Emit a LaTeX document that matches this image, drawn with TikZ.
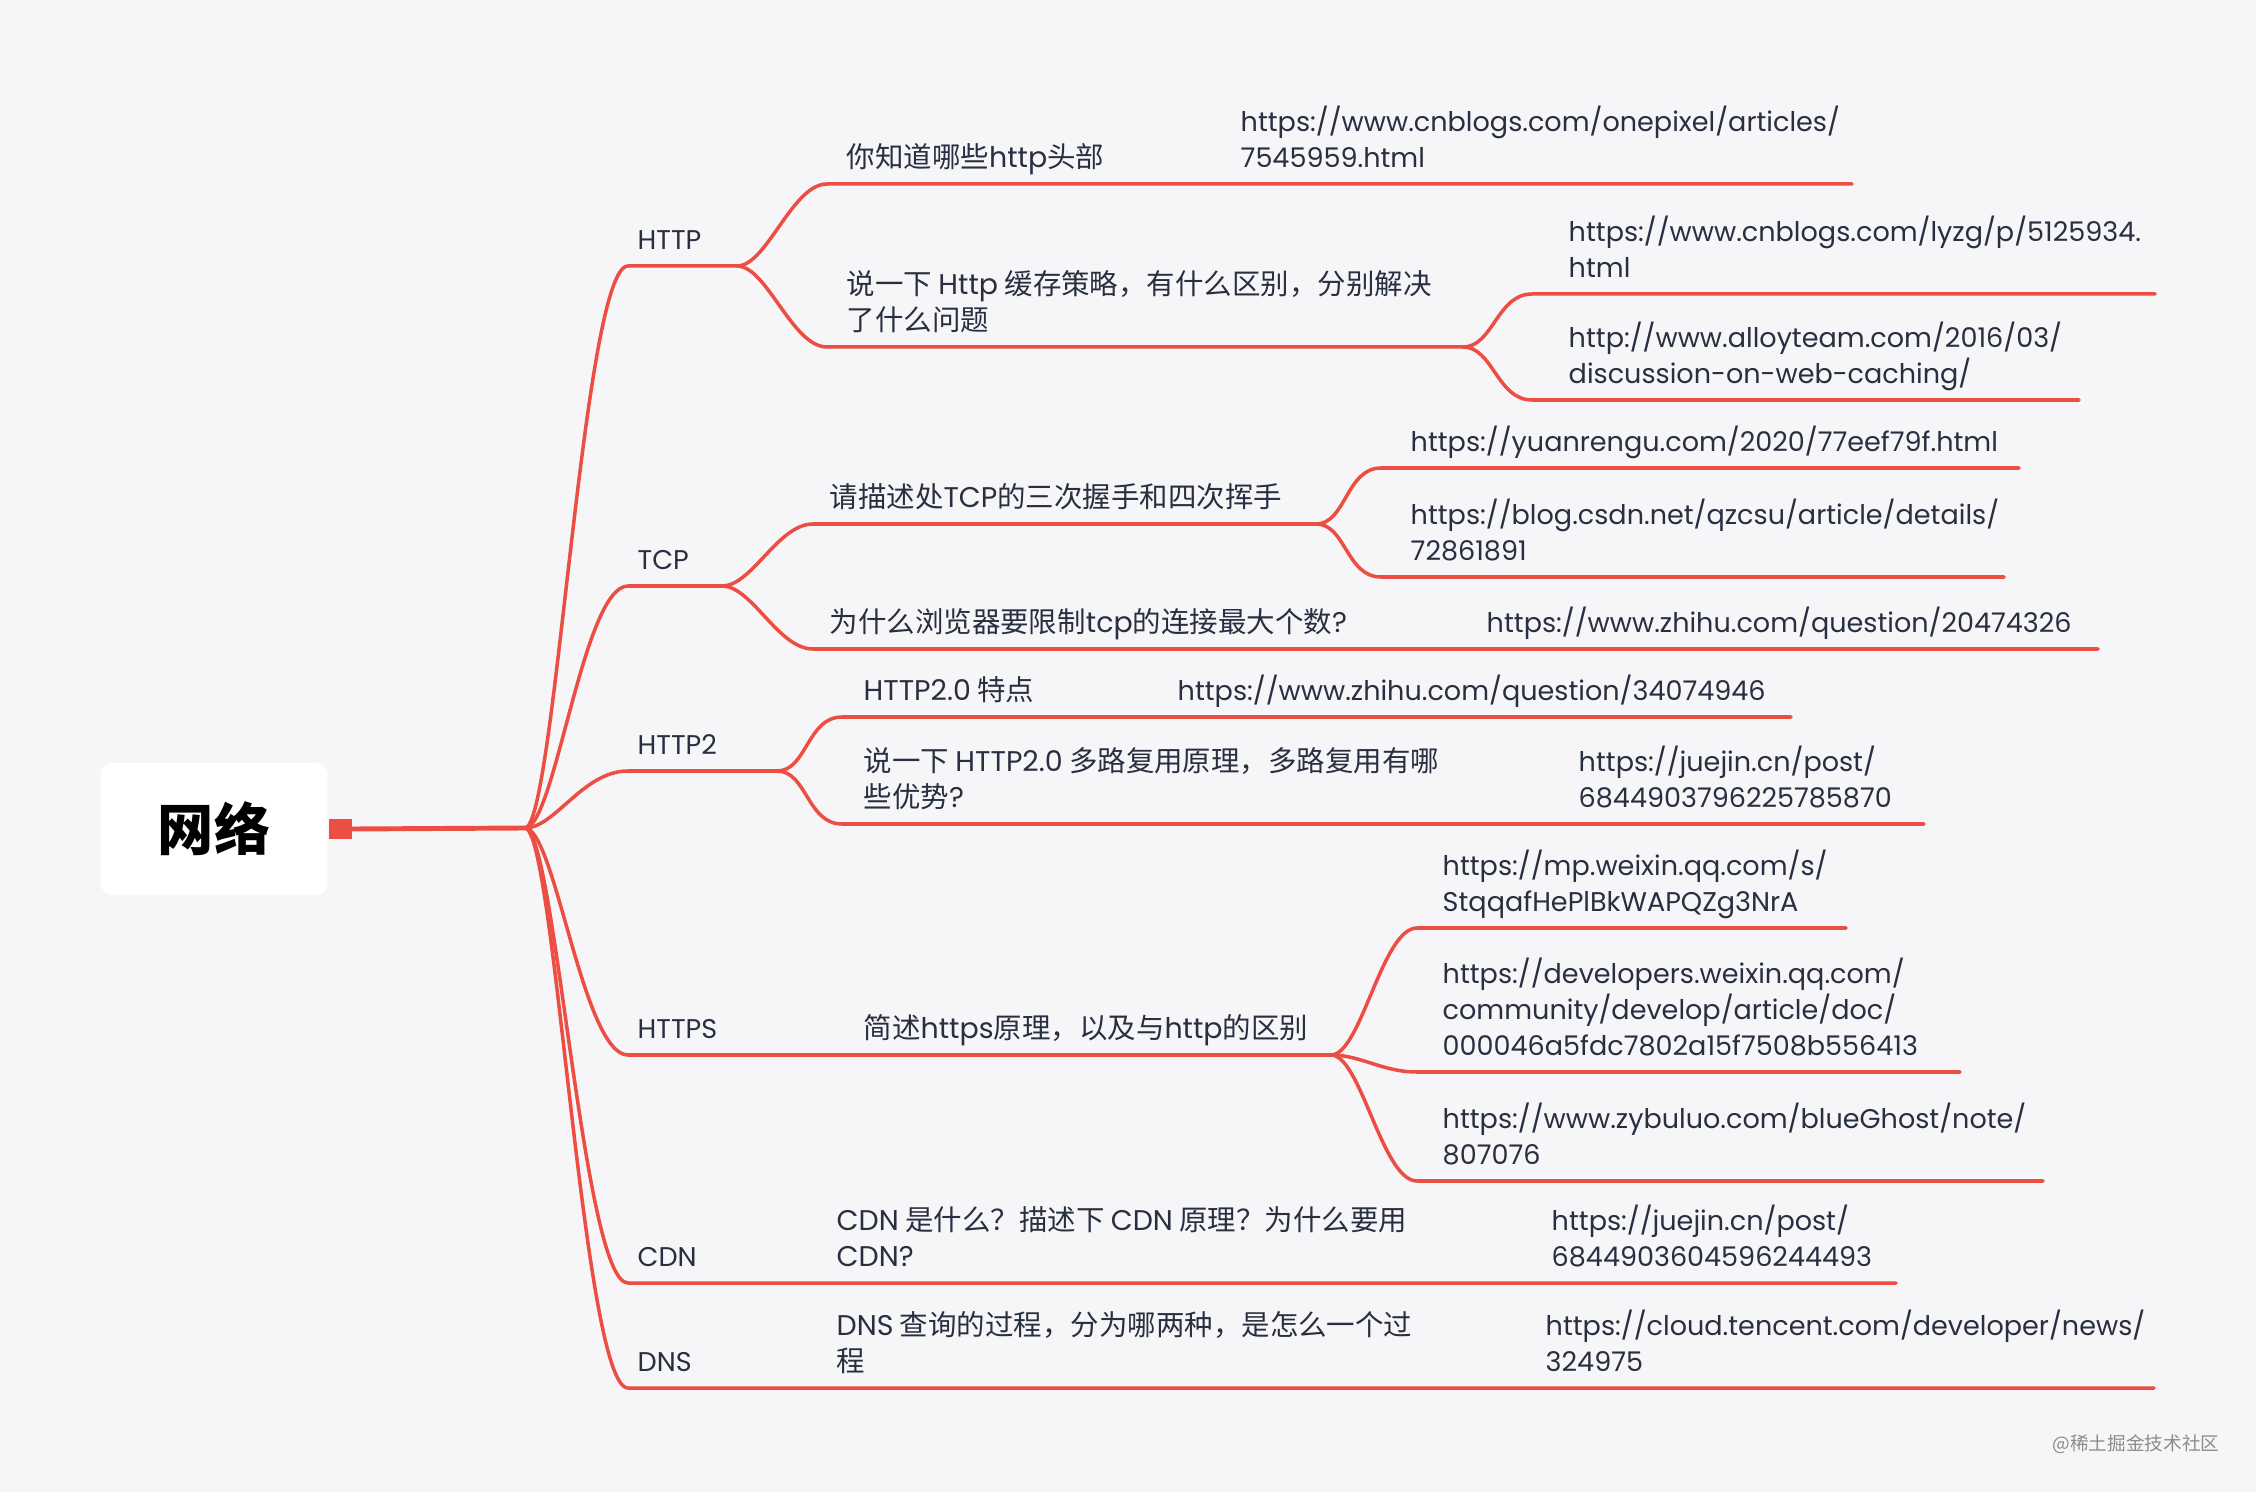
\documentclass[tikz,border=0pt]{standalone}
\usepackage{fontspec}
\setmainfont{Noto Sans CJK SC}
\newfontfamily\poppins{Poppins}
\usetikzlibrary{positioning}

\definecolor{mapred}{RGB}{236,78,68}
\definecolor{maptext}{RGB}{40,47,64}
\definecolor{mapbg}{RGB}{246,246,248}

\tikzset{
  link/.style={draw=mapred, line width=1pt, line cap=round},
  topic/.style={anchor=south west, inner sep=0pt, text depth=0pt, text=maptext, align=left,
    yshift=-0.3mm, font=\poppins\fontsize{7.7}{10.2}\selectfont},
  ask/.style={topic, font=\fontsize{8.1}{10.2}\selectfont},
  tb/.style={out=0, in=180, out distance=3mm, in distance=4.5mm},
  sb/.style={out=0, in=180, out distance=3mm, in distance=3.5mm},
}

\begin{document}
\begin{tikzpicture}[x=0.1mm, y=-0.1mm]
\fill[mapbg] (0,0) rectangle (2256,1492);
\useasboundingbox (0,0) rectangle (2256,1492);

% centro
\node[fill=white, rounded corners=1.2mm, minimum width=22.7mm, minimum height=13.2mm,
  font=\bfseries\fontsize{16}{18}\selectfont] (root) at (214,829) {网络};
\node[fill=mapred, inner sep=0pt, minimum width=2.3mm, minimum height=2mm, right=0mm of root] (dot) {};
\coordinate (hub) at (525,828);
\draw[link, line width=1.4pt] (dot.east) -- (hub);

% ramos
\coordinate (http-a) at (628,266);  \coordinate (http-b) at (737,266);
\coordinate (tcp-a) at (628,586);   \coordinate (tcp-b) at (722,586);
\coordinate (h2-a) at (628,771);    \coordinate (h2-b) at (777,771);
\coordinate (https-a) at (628,1055); \coordinate (https-b) at (1331,1055);
\coordinate (cdn-a) at (628,1283);  \coordinate (cdn-b) at (1896,1283);
\coordinate (dns-a) at (628,1388);  \coordinate (dns-b) at (2154,1388);
\draw[link] (hub) to[tb] (http-a) -- (http-b);
\draw[link] (hub) to[tb] (tcp-a) -- (tcp-b);
\draw[link] (hub) to[tb] (h2-a) -- (h2-b);
\draw[link] (hub) to[tb] (https-a) -- (https-b);
\draw[link] (hub) to[tb] (cdn-a) -- (cdn-b);
\draw[link] (hub) to[tb] (dns-a) -- (dns-b);

% HTTP
\coordinate (hq1-a) at (827,184);   \coordinate (hq1-b) at (1852,184);
\coordinate (hq2-a) at (827,347);   \coordinate (hq2-b) at (1463,347);
\coordinate (hu2-a) at (1532,294);  \coordinate (hu2-b) at (2155,294);
\coordinate (hu3-a) at (1532,400);  \coordinate (hu3-b) at (2079,400);
\draw[link] (http-b) to[sb] (hq1-a) -- (hq1-b);
\draw[link] (http-b) to[sb] (hq2-a) -- (hq2-b);
\draw[link] (hq2-b) to[sb] (hu2-a) -- (hu2-b);
\draw[link] (hq2-b) to[sb] (hu3-a) -- (hu3-b);

% TCP
\coordinate (tq1-a) at (813,524);   \coordinate (tq1-b) at (1316,524);
\coordinate (tq2-a) at (813,649);   \coordinate (tq2-b) at (2098,649);
\coordinate (tu1-a) at (1381,468);  \coordinate (tu1-b) at (2019,468);
\coordinate (tu2-a) at (1381,577);  \coordinate (tu2-b) at (2004,577);
\draw[link] (tcp-b) to[sb] (tq1-a) -- (tq1-b);
\draw[link] (tcp-b) to[sb] (tq2-a) -- (tq2-b);
\draw[link] (tq1-b) to[sb] (tu1-a) -- (tu1-b);
\draw[link] (tq1-b) to[sb] (tu2-a) -- (tu2-b);

% HTTP2
\coordinate (2q1-a) at (842,717);   \coordinate (2q1-b) at (1791,717);
\coordinate (2q2-a) at (842,824);   \coordinate (2q2-b) at (1924,824);
\draw[link] (h2-b) to[sb] (2q1-a) -- (2q1-b);
\draw[link] (h2-b) to[sb] (2q2-a) -- (2q2-b);

% HTTPS
\coordinate (su1-a) at (1417,928);  \coordinate (su1-b) at (1846,928);
\coordinate (su2-a) at (1417,1072); \coordinate (su2-b) at (1960,1072);
\coordinate (su3-a) at (1417,1181); \coordinate (su3-b) at (2043,1181);
\draw[link] (https-b) to[sb] (su1-a) -- (su1-b);
\draw[link] (https-b) to[sb] (su2-a) -- (su2-b);
\draw[link] (https-b) to[sb] (su3-a) -- (su3-b);

% textos
\node[topic] (http) at (637,247) {HTTP};
\node[ask] (http-q1) at (846,165) {你知道哪些{\poppins http}头部};
\node[topic] (http-u1) at (1240,165) {https://www.cnblogs.com/onepixel/articles/\\7545959.html};
\node[ask] (http-q2) at (846,328) {说一下 {\poppins Http} 缓存策略，有什么区别，分别解决\\了什么问题};
\node[topic] (http-u2) at (1568,275) {https://www.cnblogs.com/lyzg/p/5125934.\\html};
\node[topic] (http-u3) at (1568,381) {http://www.alloyteam.com/2016/03/\\discussion-on-web-caching/};

\node[topic] (tcp) at (637,567) {TCP};
\node[ask] (tcp-q1) at (829,505) {请描述处{\poppins TCP}的三次握手和四次挥手};
\node[topic] (tcp-u1) at (1410,449) {https://yuanrengu.com/2020/77eef79f.html};
\node[topic] (tcp-u2) at (1410,558) {https://blog.csdn.net/qzcsu/article/details/\\72861891};
\node[ask] (tcp-q2) at (829,630) {为什么浏览器要限制{\poppins tcp}的连接最大个数{\poppins ?}};
\node[topic] (tcp-u3) at (1486,630) {https://www.zhihu.com/question/20474326};

\node[topic] (h2) at (637,752) {HTTP2};
\node[ask] (h2-q1) at (863,698) {{\poppins HTTP2.0} 特点};
\node[topic] (h2-u1) at (1177,698) {https://www.zhihu.com/question/34074946};
\node[ask] (h2-q2) at (863,805) {说一下 {\poppins HTTP2.0} 多路复用原理，多路复用有哪\\些优势{\poppins ?}};
\node[topic] (h2-u2) at (1578,805) {https://juejin.cn/post/\\6844903796225785870};

\node[topic] (https) at (637,1036) {HTTPS};
\node[ask] (https-q) at (863,1036) {简述{\poppins https}原理，以及与{\poppins http}的区别};
\node[topic] (https-u1) at (1442,909) {https://mp.weixin.qq.com/s/\\StqqafHePlBkWAPQZg3NrA};
\node[topic] (https-u2) at (1442,1053) {https://developers.weixin.qq.com/\\community/develop/article/doc/\\000046a5fdc7802a15f7508b556413};
\node[topic] (https-u3) at (1442,1162) {https://www.zybuluo.com/blueGhost/note/\\807076};

\node[topic] (cdn) at (637,1264) {CDN};
\node[ask] (cdn-q) at (836,1264) {{\poppins CDN} 是什么？描述下 {\poppins CDN} 原理？为什么要用\\{\poppins CDN?}};
\node[topic] (cdn-u) at (1551,1264) {https://juejin.cn/post/\\6844903604596244493};

\node[topic] (dns) at (637,1369) {DNS};
\node[ask] (dns-q) at (836,1369) {{\poppins DNS} 查询的过程，分为哪两种，是怎么一个过\\程};
\node[topic] (dns-u) at (1545,1369) {https://cloud.tencent.com/developer/news/\\324975};

\node[anchor=east, inner sep=0pt, text=black!45, font=\fontsize{5.3}{6}\selectfont] (mark) at (2220,1444) {@稀土掘金技术社区};
\end{tikzpicture}
\end{document}
